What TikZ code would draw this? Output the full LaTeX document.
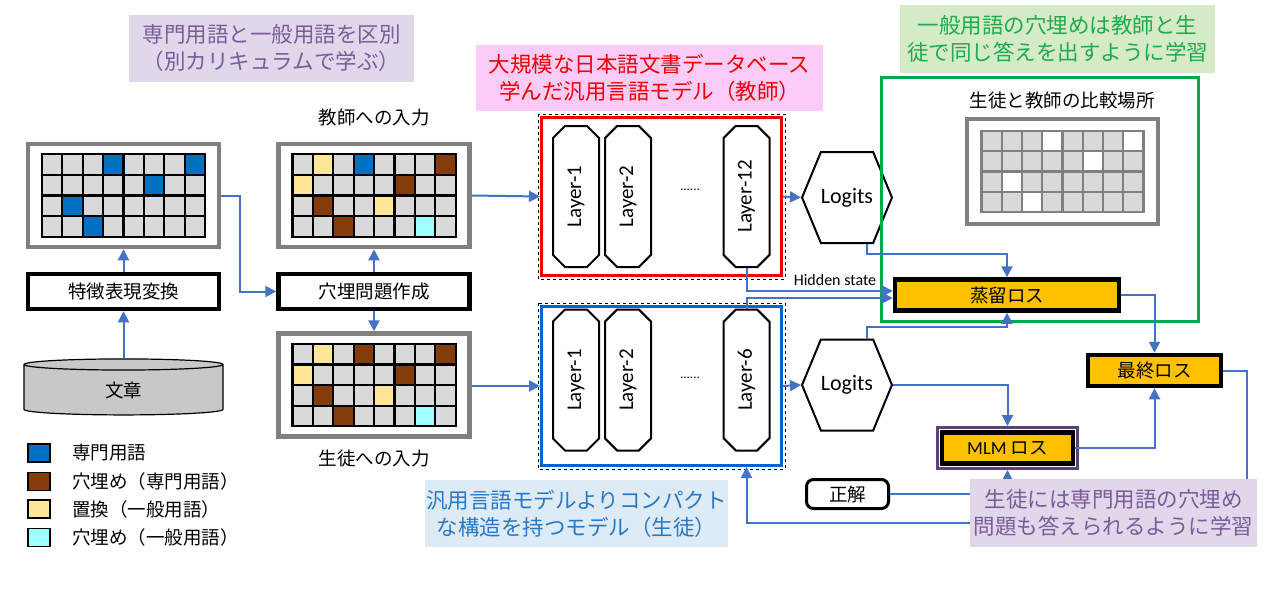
\documentclass[tikz,border=0pt]{standalone}
\usepackage{fontspec}
\setmainfont{Noto Sans CJK JP}
\newfontfamily\lat{Carlito}
\usepackage{tikz}
\usetikzlibrary{arrows.meta,shapes.geometric,shapes.misc,shapes.symbols,calc}

\begin{document}
\begin{tikzpicture}
	[x=1pt,y=-1pt,
	font=\fontsize{18.5}{22}\selectfont,
	%Styles
	flow/.style={flowblue,line width=2pt,-{Triangle[length=11pt,width=11pt]}},
	gridframe/.style={draw=framegray,line width=4.5pt,fill=white,minimum width=191,minimum height=103,inner sep=0},
	cell/.style={draw=black,line width=2.2pt,fill=cellgray},
	box/.style={draw=black,line width=4.5pt,fill=white,minimum width=191,minimum height=35,inner sep=0},
	loss/.style={draw=black,line width=4.5pt,fill=lossorange,minimum height=31,inner sep=0},
	note/.style={inner sep=0,align=center,font=\fontsize{21.5}{27}\selectfont},
	layerbox/.style={chamfered rectangle,chamfered rectangle xsep=14pt,draw,line width=2pt,fill=white,rotate=90,minimum width=141,minimum height=46,inner sep=0,font=\lat\fontsize{21}{24}\selectfont},
	logit/.style={signal,signal to=west and east,signal pointer angle=135,draw,line width=2pt,fill=white,minimum width=78,minimum height=91,inner sep=0,font=\lat\fontsize{22}{24}\selectfont},
	legsq/.style={draw=black,line width=1.4pt,minimum width=22,minimum height=18,inner sep=0}
	]
	
	%Colors
	\definecolor{flowblue}{HTML}{4472C4}
	\definecolor{framegray}{HTML}{808080}
	\definecolor{cellgray}{HTML}{D9D9D9}
	\definecolor{termblue}{HTML}{0070C0}
	\definecolor{maskbrown}{HTML}{843C0C}
	\definecolor{swapyellow}{HTML}{FFE699}
	\definecolor{maskcyan}{HTML}{A0FFFF}
	\definecolor{docgray}{HTML}{C8C8C8}
	\definecolor{lossorange}{HTML}{FFC000}
	\definecolor{teacherred}{HTML}{EE0000}
	\definecolor{studentblue}{HTML}{0066CC}
	\definecolor{cmpgreen}{HTML}{00A84A}
	\definecolor{mlmpurple}{HTML}{5E3F80}
	\definecolor{notepurple}{HTML}{E0D7EA}
	\definecolor{notepurpletext}{HTML}{7A5C9A}
	\definecolor{notepink}{HTML}{FCCCF8}
	\definecolor{notegreen}{HTML}{D5EAC6}
	\definecolor{notegreentext}{HTML}{1FAA50}
	\definecolor{noteblue}{HTML}{DDEBF7}
	\definecolor{notebluetext}{HTML}{2878C8}
	
	\useasboundingbox[fill=white] (0,0) rectangle (1280,610);
	
	%Input side
	\node[gridframe] (g1) at (123.5,195.5) {};
	\node[gridframe] (g2) at (374,195.5) {};
	\node[gridframe] (g3) at (374,385) {};
	\foreach \g in {g1,g2,g3}
		\foreach \c in {0,...,7}
			\foreach \r in {0,...,3}
				\draw[cell] ($(\g.center)+(-81.6+20.4*\c,-41.2+20.6*\r)$) rectangle ++(20.4,20.6);
	\foreach \g/\c/\r/\col in {g1/3/0/termblue,g1/7/0/termblue,g1/5/1/termblue,g1/1/2/termblue,g1/2/3/termblue,
		g2/1/0/swapyellow,g2/3/0/termblue,g2/7/0/maskbrown,g2/0/1/swapyellow,g2/5/1/maskbrown,
		g2/1/2/maskbrown,g2/4/2/swapyellow,g2/2/3/maskbrown,g2/6/3/maskcyan,
		g3/1/0/swapyellow,g3/3/0/maskbrown,g3/7/0/maskbrown,g3/0/1/swapyellow,g3/5/1/maskbrown,
		g3/1/2/maskbrown,g3/4/2/swapyellow,g3/2/3/maskbrown,g3/6/3/maskcyan}
		\draw[cell,fill=\col] ($(\g.center)+(-81.6+20.4*\c,-41.2+20.6*\r)$) rectangle ++(20.4,20.6);
	
	\node[box] (feat) at (123.5,291.5) {特徴表現変換};
	\node[box] (mask) at (374,291.5) {穴埋問題作成};
	\node[cylinder,shape border rotate=90,aspect=0.3,draw,line width=1.2pt,fill=docgray,
		minimum width=199,minimum height=56,inner sep=0] (doc) at (123.5,390) {文章};
	\node (tin) at (374,117) {教師への入力};
	\node (sin) at (374,458) {生徒への入力};
	
	%Legend
	\foreach \y/\col/\txt [count=\i] in {453/termblue/専門用語,481.5/maskbrown/穴埋め（専門用語）,
		509/swapyellow/置換（一般用語）,537.5/maskcyan/穴埋め（一般用語）}{
		\node[legsq,fill=\col] (leg\i) at (39,\y) {};
		\node[anchor=west,inner sep=0] (legt\i) at (72,\y) {\txt};
	}
	
	%Models
	\node[draw=teacherred,line width=3pt,minimum width=240,minimum height=158,inner sep=0] (T) at (661.5,196.5) {};
	\draw[dashed,line width=0.9pt] ([shift={(-2,-2)}]T.north west) rectangle ([shift={(2,2)}]T.south east);
	\node[draw=studentblue,line width=3pt,minimum width=240,minimum height=159,inner sep=0] (S) at (661.5,386) {};
	\draw[dashed,line width=0.9pt] ([shift={(-2,-2)}]S.north west) rectangle ([shift={(2,2)}]S.south east);
	
	\node[layerbox] (tl1) at (576,196.5) {Layer-1};
	\node[layerbox] (tl2) at (628,196.5) {Layer-2};
	\node[layerbox] (tl12) at (746.5,196.5) {Layer-12};
	\node[font=\lat\fontsize{13}{14}\selectfont] (tdots) at (690,190) {......};
	\node[layerbox] (sl1) at (576,380) {Layer-1};
	\node[layerbox] (sl2) at (628,380) {Layer-2};
	\node[layerbox] (sl6) at (746.5,380) {Layer-6};
	\node[font=\lat\fontsize{13}{14}\selectfont] (sdots) at (690,378) {......};
	
	\node[logit] (tlog) at (847,197.5) {Logits};
	\node[logit] (slog) at (847,385) {Logits};
	
	%Losses
	\node[draw=cmpgreen,line width=3pt,minimum width=317,minimum height=243,inner sep=0] (cmp) at (1039.5,199.5) {};
	\node (cmpt) at (1062,100) {生徒と教師の比較場所};
	\node[gridframe,minimum height=105] (g4) at (1062.5,171.5) {};
	\foreach \c in {0,...,7}
		\foreach \r in {0,...,3}
			\draw[cell,draw=framegray] ($(g4.center)+(-81+20.25*\c,-40.5+20.25*\r)$) rectangle ++(20.25,20.25);
	\foreach \c/\r in {3/0,7/0,5/1,1/2,2/3}
		\draw[cell,draw=framegray,fill=white] ($(g4.center)+(-81+20.25*\c,-40.5+20.25*\r)$) rectangle ++(20.25,20.25);
	
	\node[loss,minimum width=224] (dl) at (1007,295) {蒸留ロス};
	\node[loss,minimum width=133] (fl) at (1154.5,370.5) {最終ロス};
	\node[draw=mlmpurple,line width=3pt,minimum width=140,minimum height=41,inner sep=0] (mlmf) at (1007.5,448) {};
	\node[loss,minimum width=131] (mlm) at (1007.5,448) {{\lat MLM} ロス};
	\node[draw,line width=3pt,rounded corners=7pt,fill=white,minimum width=82,minimum height=29,inner sep=0] (ans) at (847.5,494) {正解};
	
	%Connectors
	\draw[flow] (doc.north) -- (feat.south);
	\draw[flow] (feat.north) -- (g1.south);
	\draw[flow] (g1.east) -- ++(19,0) |- (mask.west);
	\draw[flow] (mask.north) -- (g2.south);
	\draw[flow] (mask.south) -- (g3.north);
	\draw[flow] (g2.east) -- (T.west);
	\draw[flow] (g3.east |- S.west) -- (S.west);
	\draw[flow] (T.east) -- (tlog.west);
	\draw[flow] (S.east) -- (slog.west);
	\draw[flow] ([xshift=20pt]tlog.south) -- ++(0,10) -| (dl.north);
	\draw[flow] ([xshift=20pt]slog.north) -- ++(0,-12) -| (dl.south);
	\draw[flow] (tl12.west) |- ([yshift=4pt]dl.west);
	\draw[flow] (sl6.east) |- ([yshift=-3pt]dl.west);
	\node[font=\lat\fontsize{16}{18}\selectfont] (hs) at (835,280) {Hidden state};
	\draw[flow] (slog.east) -| (mlmf.north);
	\draw[flow] (ans.east) -| (mlmf.south);
	\draw[flow] (mlm.east) -| (fl.south);
	\draw[flow] (dl.east) -| (fl.north);
	\coordinate (ret) at (746.5,523);
	\draw[flow] (fl.east) -- ++(24,0) |- (ret) -- (ret |- S.south);
	
	%Notes
	\node[note,fill=notepurple,text=notepurpletext,minimum width=285,minimum height=67] (n1) at (271.5,48.5) {専門用語と一般用語を区別\\（別カリキュラムで学ぶ）};
	\node[note,fill=notepink,text=teacherred,minimum width=347,minimum height=66] (n2) at (649.5,78) {大規模な日本語文書データベース\\学んだ汎用言語モデル（教師）};
	\node[note,fill=notegreen,text=notegreentext,minimum width=315,minimum height=68] (n3) at (1057.5,39) {一般用語の穴埋めは教師と生\\徒で同じ答えを出すように学習};
	\node[note,fill=noteblue,text=notebluetext,minimum width=303,minimum height=67] (n4) at (576.5,513.5) {汎用言語モデルよりコンパクト\\な構造を持つモデル（生徒）};
	\node[note,fill=notepurple,text=notepurpletext,minimum width=287,minimum height=68] (n5) at (1113.5,513) {生徒には専門用語の穴埋め\\問題も答えられるように学習};
\end{tikzpicture}
\end{document}
